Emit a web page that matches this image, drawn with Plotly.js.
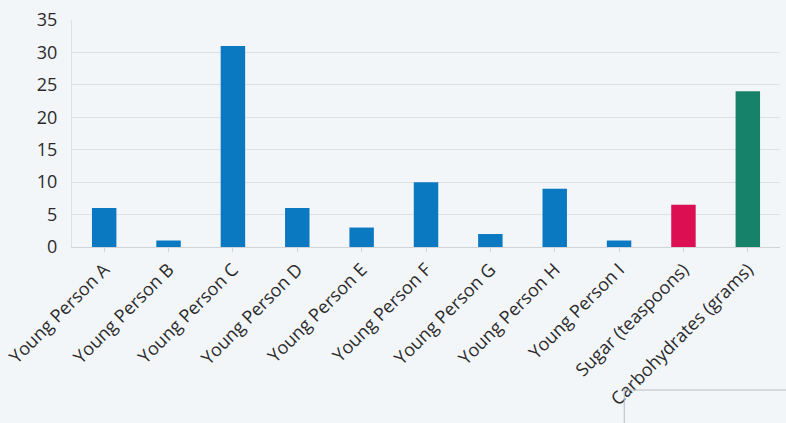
<!DOCTYPE html>
<html><head><meta charset="utf-8">
<script src="https://cdn.plot.ly/plotly-3.0.1.min.js"></script>
<style>html,body{margin:0;padding:0;background:#f3f6f9;}#chart{width:786px;height:423px;}</style>
</head><body><div id="chart"></div>
<script>
const categories = ["Young Person A","Young Person B","Young Person C","Young Person D","Young Person E","Young Person F","Young Person G","Young Person H","Young Person I","Sugar (teaspoons)","Carbohydrates (grams)"];
const values = [6, 1, 31, 6, 3, 10, 2, 9, 1, 6.5, 24];
const barColors = ["#0b78c2","#0b78c2","#0b78c2","#0b78c2","#0b78c2","#0b78c2","#0b78c2","#0b78c2","#0b78c2","#dc0f52","#17826a"];
const yTicks = [0,5,10,15,20,25,30,35];

Plotly.newPlot('chart', [{
  type: 'bar', x: categories, y: values,
  marker: {color: barColors}
}], {
  width: 786, height: 423,
  paper_bgcolor: '#f3f6f9', plot_bgcolor: '#f3f6f9',
  margin: {l: 72, r: 6, t: 20, b: 176},
  bargap: 0.62,
  showlegend: false,
  font: {family: 'Open Sans, sans-serif', color: '#333'},
  xaxis: {tickangle: -45, tickfont: {size: 18, color: '#2b2b2b'}, showgrid: false, automargin: false,
          showline: true, linecolor: '#d0d4d8', ticks: 'outside', ticklen: 4, tickcolor: '#d0d4d8'},
  yaxis: {range: [0, 35], tickvals: yTicks, tickfont: {size: 18, color: '#2b2b2b'},
          gridcolor: '#dde1e5', zeroline: false, showline: true, linecolor: '#dde1e5', ticklabelstandoff: 10},
  shapes: [{type: 'rect', xref: 'paper', yref: 'paper', x0: 0.78, x1: 1.02, y0: -0.9, y1: -0.63,
            line: {color: '#b8bcc0', width: 1}, fillcolor: 'rgba(0,0,0,0)'}]
}, {staticPlot: true});
</script></body></html>
